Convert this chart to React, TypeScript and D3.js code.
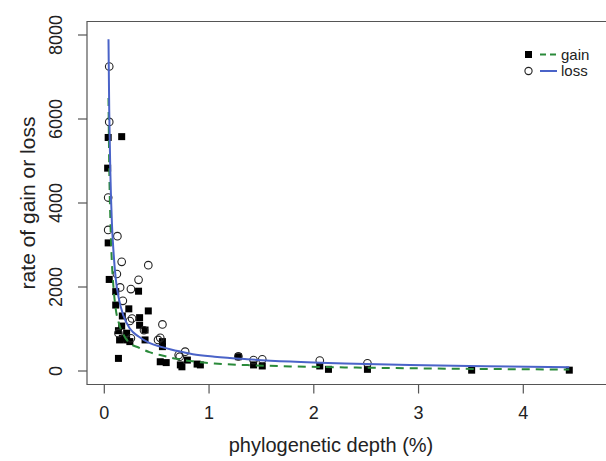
import React from "react";
import * as d3 from "d3";

// axis ticks
const xTicks = [0, 1, 2, 3, 4];
const yTicks = [0, 2000, 4000, 6000, 8000];

// gain (filled squares)
const gainDepth = [0.037, 0.166, 0.032, 0.037, 0.047, 0.327, 0.109, 0.109, 0.234, 0.42, 0.172, 0.337, 0.337, 0.166, 0.389, 0.135, 0.213, 0.172, 0.213, 0.389, 0.555, 0.555, 0.135, 0.534, 0.591, 0.726, 0.793, 0.886, 0.741, 0.917, 1.28, 1.425, 1.508, 2.057, 2.14, 2.512, 3.507, 4.439, 0.146, 0.244];
const gainRate = [5560, 5580, 4830, 3050, 2180, 1900, 1890, 1570, 1480, 1430, 1310, 1270, 1090, 1070, 975, 960, 900, 780, 740, 740, 700, 580, 300, 220, 200, 145, 260, 165, 100, 145, 340, 145, 120, 120, 40, 40, 20, 20, 740, 700];

// loss (open circles)
const lossDepth = [0.047, 0.047, 0.037, 0.037, 0.125, 0.166, 0.42, 0.12, 0.327, 0.151, 0.254, 0.177, 0.265, 0.244, 0.555, 0.379, 0.135, 0.534, 0.254, 0.71, 0.772, 0.72, 1.28, 1.425, 1.508, 2.057, 2.512, 0.513];
const lossRate = [7250, 5930, 4130, 3360, 3210, 2600, 2520, 2310, 2170, 1990, 1950, 1670, 1250, 1190, 1110, 970, 900, 790, 780, 380, 460, 340, 350, 260, 280, 250, 185, 740];

// fitted curves
const fitDepth = [0.04, 0.047, 0.058, 0.073, 0.089, 0.109, 0.141, 0.182, 0.244, 0.327, 0.43, 0.534, 0.69, 0.845, 1.052, 1.363, 1.777, 2.295, 2.916, 3.641, 4.439];
const lossFit = [7900, 6200, 4700, 3500, 2800, 2200, 1700, 1320, 1010, 820, 670, 580, 480, 400, 340, 280, 225, 180, 145, 115, 90];
const gainFit = [6500, 4900, 3600, 2550, 1950, 1480, 1120, 870, 660, 560, 450, 380, 290, 230, 180, 140, 110, 85, 65, 48, 35];

const W = 606;
const H = 461;
const box = { left: 87, top: 21.5, bottom: 384.5 };
const font = "'Liberation Sans', Arial, Helvetica, sans-serif";
const axisColor = "#555";
const green = "#2a8a3a";
const blue = "#4a63c8";

export default function App() {
    const x = d3.scaleLinear().domain([0, 4]).range([104.3, 523.3]);
    const y = d3.scaleLinear().domain([0, 8000]).range([371, 35]);

    const fitLine = (vals: number[]) =>
        d3
            .line<number>()
            .x((_, i) => x(fitDepth[i]))
            .y((v) => y(v))
            .curve(d3.curveMonotoneX)(vals) || "";

    return (
        <div style={{ position: "absolute", left: 0, top: 0 }}>
            <svg width={W} height={H} style={{ display: "block", background: "#fff" }} fontFamily={font}>
                {/* box, open on the right */}
                <path
                    d={`M${W},${box.top}H${box.left}V${box.bottom}H${W}`}
                    fill="none"
                    stroke={axisColor}
                    strokeWidth={1.2}
                />

                {/* x axis */}
                {xTicks.map((t) => (
                    <g key={"x" + t}>
                        <line x1={x(t)} x2={x(t)} y1={box.bottom} y2={box.bottom + 9} stroke={axisColor} strokeWidth={1.2} />
                        <text x={x(t)} y={419} fontSize={18} textAnchor="middle" fill="#222">
                            {t}
                        </text>
                    </g>
                ))}
                <text x={331} y={452} fontSize={20} textAnchor="middle" fill="#222">
                    phylogenetic depth (%)
                </text>

                {/* y axis */}
                {yTicks.map((t) => (
                    <g key={"y" + t}>
                        <line x1={box.left} x2={box.left - 9} y1={y(t)} y2={y(t)} stroke={axisColor} strokeWidth={1.2} />
                        <text
                            transform={`translate(62,${y(t)}) rotate(-90)`}
                            fontSize={18}
                            textAnchor="middle"
                            fill="#222"
                        >
                            {t}
                        </text>
                    </g>
                ))}
                <text
                    transform={`translate(35,${(box.top + box.bottom) / 2}) rotate(-90)`}
                    fontSize={21}
                    textAnchor="middle"
                    fill="#222"
                >
                    rate of gain or loss
                </text>

                {/* points */}
                {gainDepth.map((d, i) => (
                    <rect key={"g" + i} x={x(d) - 3.5} y={y(gainRate[i]) - 3.5} width={7} height={7} fill="#000" />
                ))}
                {lossDepth.map((d, i) => (
                    <circle key={"l" + i} cx={x(d)} cy={y(lossRate[i])} r={3.8} fill="none" stroke="#222" strokeWidth={1.1} />
                ))}

                {/* fitted curves */}
                <path d={fitLine(gainFit)} fill="none" stroke={green} strokeWidth={2} strokeDasharray="8,6" />
                <path d={fitLine(lossFit)} fill="none" stroke={blue} strokeWidth={2} />

                {/* legend */}
                <g fontSize={15} fill="#222">
                    <rect x={525} y={51} width={7} height={7} fill="#000" />
                    <line x1={540} x2={557} y1={54.5} y2={54.5} stroke={green} strokeWidth={2} strokeDasharray="6,4" />
                    <text x={561} y={59.5}>gain</text>
                    <circle cx={528.5} cy={71} r={3.6} fill="none" stroke="#222" strokeWidth={1.1} />
                    <line x1={540} x2={557} y1={71} y2={71} stroke={blue} strokeWidth={2} />
                    <text x={561} y={76}>loss</text>
                </g>
            </svg>
        </div>
    );
}
